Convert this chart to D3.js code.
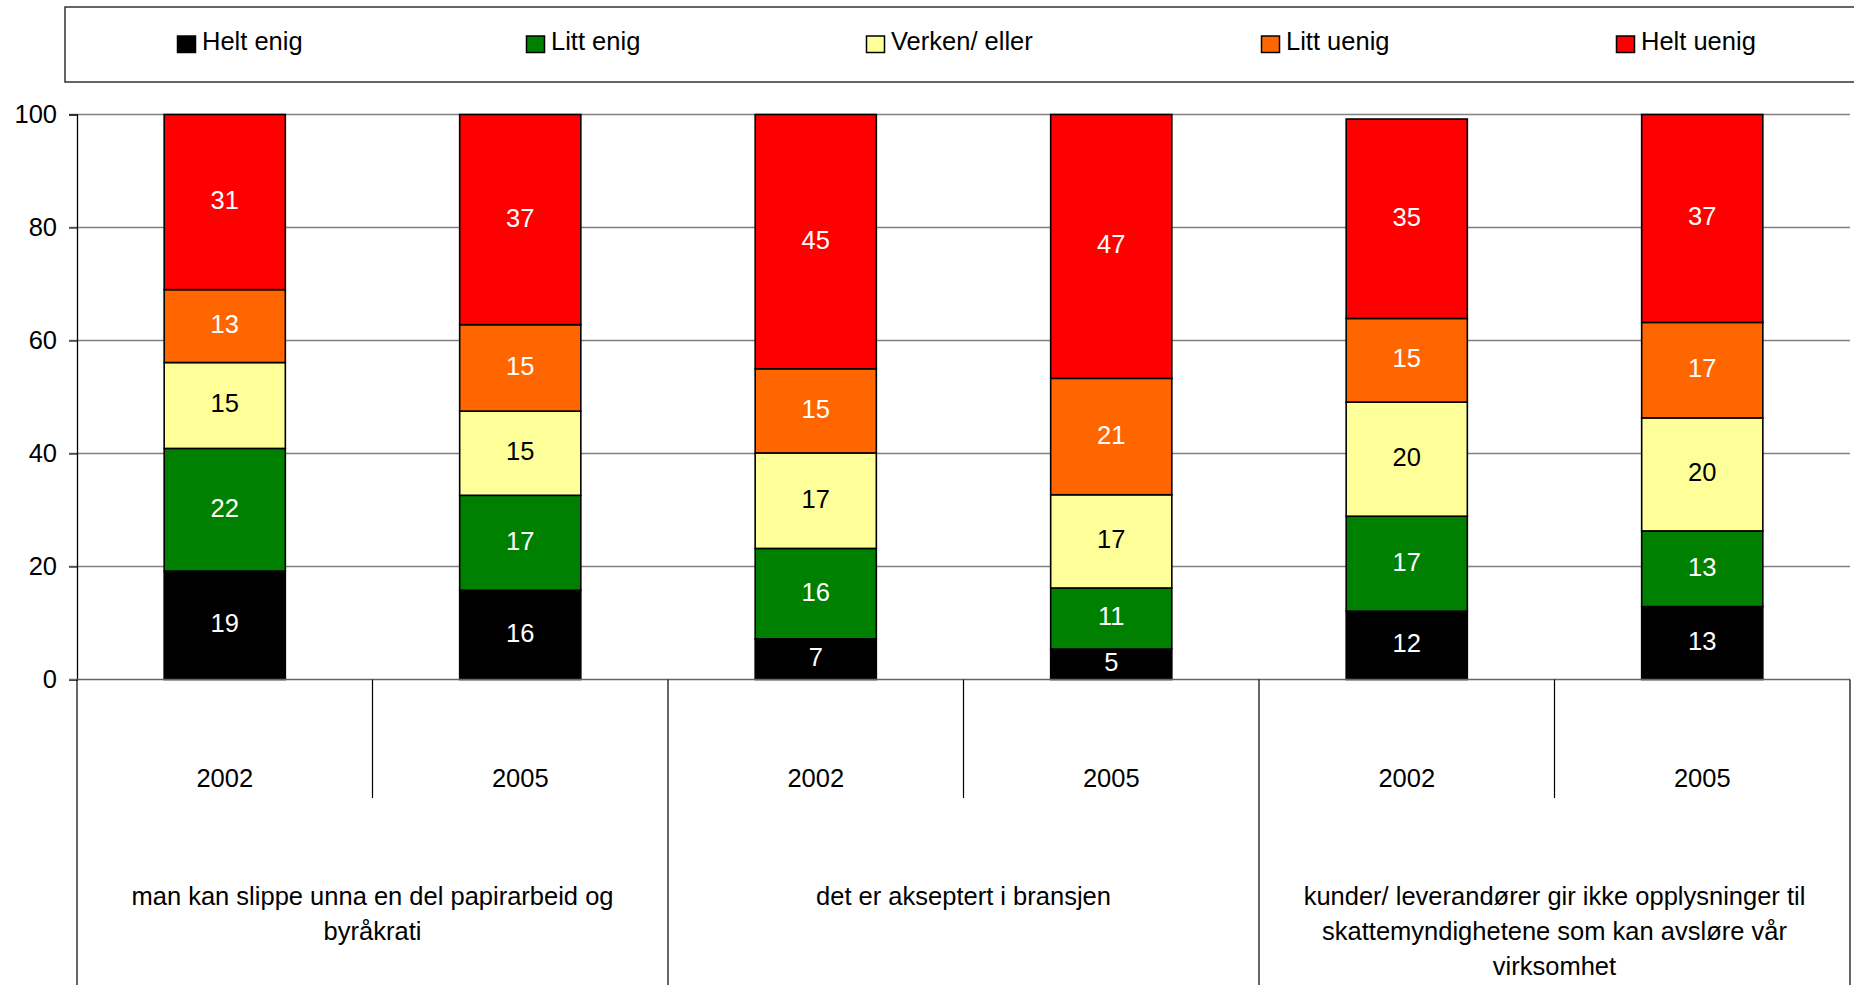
<!DOCTYPE html>
<html>
<head>
<meta charset="utf-8">
<script src="https://cdn.jsdelivr.net/npm/d3@7"></script>
<style>
  html, body { margin: 0; padding: 0; background: #fff; }
  svg { display: block; font-family: "Liberation Sans", Arial, sans-serif; }
</style>
</head>
<body>
<svg id="chart" width="1854" height="985"></svg>
<script>
// ---------- data ----------
const years = ["2002", "2005"];
const groupLines = [
  ["man kan slippe unna en del papirarbeid og", "byråkrati"],
  ["det er akseptert i bransjen"],
  ["kunder/ leverandører gir ikke opplysninger til", "skattemyndighetene som kan avsløre vår", "virksomhet"]
];
const seriesNames = ["Helt enig", "Litt enig", "Verken/ eller", "Litt uenig", "Helt uenig"];
const heltEnig  = [19.2, 15.8, 7.2, 5.4, 12.1, 12.9];
const littEnig  = [21.7, 16.8, 16.0, 10.8, 16.8, 13.4];
const verken    = [15.2, 14.9, 16.9, 16.5, 20.2, 20.0];
const littUenig = [12.9, 15.3, 14.9, 20.6, 14.8, 16.9];
const heltUenig = [31.0, 37.2, 45.0, 46.7, 35.3, 36.8];
const yTicks = [0, 20, 40, 60, 80, 100];

(function () {
// ---------- styles ----------
const colors = ["#000000", "#008000", "#FFFF99", "#FF6600", "#FF0000"];
const labelColors = ["#fff", "#fff", "#000", "#fff", "#fff"];
const FONT = 25.5;

const svg = d3.select("#chart");
svg.append("rect").attr("width", 1854).attr("height", 985).attr("fill", "#fff");

const plotL = 77, plotR = 1850, plotT = 114.5, plotB = 679.5;
const cats = d3.range(groupLines.length * years.length);
const x = d3.scaleBand().domain(cats).range([plotL, plotR]).padding(0);
const y = d3.scaleLinear().domain([0, 100]).range([plotB, plotT]);
const barW = x.bandwidth() * 0.41;

// gridlines
svg.append("g").selectAll("line").data(yTicks.filter(d => d > 0)).join("line")
  .attr("x1", plotL - 8).attr("x2", plotR)
  .attr("y1", d => y(d)).attr("y2", d => y(d))
  .attr("stroke", "#808080").attr("stroke-width", 1.3);

// y axis
const yAxis = d3.axisLeft(y).tickValues(yTicks).tickSize(8).tickPadding(12);
const gy = svg.append("g").attr("transform", `translate(${plotL},0)`).call(yAxis);
gy.select(".domain").attr("stroke", "#000").attr("stroke-width", 1.3);
gy.selectAll(".tick line").attr("stroke", "#333").attr("stroke-width", 1.3);
gy.selectAll(".tick text").attr("font-size", FONT).attr("fill", "#000")
  .attr("font-family", '"Liberation Sans", Arial, sans-serif');

// stacked bars
const rows = cats.map(i => {
  const o = { i };
  [heltEnig, littEnig, verken, littUenig, heltUenig].forEach((arr, k) => o[seriesNames[k]] = arr[i]);
  return o;
});
const stack = d3.stack().keys(seriesNames)(rows);

const gBars = svg.append("g");
stack.forEach((layer, k) => {
  const g = gBars.append("g");
  g.selectAll("rect").data(layer).join("rect")
    .attr("x", d => x(d.data.i) + (x.bandwidth() - barW) / 2)
    .attr("width", barW)
    .attr("y", d => y(d[1]))
    .attr("height", d => y(d[0]) - y(d[1]))
    .attr("fill", colors[k])
    .attr("stroke", "#000").attr("stroke-width", 1.6);
});
stack.forEach((layer, k) => {
  svg.append("g").selectAll("text").data(layer).join("text")
    .attr("x", d => x(d.data.i) + x.bandwidth() / 2)
    .attr("y", d => (y(d[0]) + y(d[1])) / 2 + 7)
    .attr("text-anchor", "middle")
    .attr("font-size", FONT)
    .attr("fill", labelColors[k])
    .text(d => Math.round(d[1] - d[0]));
});

// x axis (zero line)
svg.append("line").attr("x1", plotL - 8).attr("x2", plotR).attr("y1", plotB).attr("y2", plotB)
  .attr("stroke", "#666").attr("stroke-width", 1.5);

// category box
const gCat = svg.append("g");
const groupEdges = d3.range(groupLines.length + 1).map(g => g === groupLines.length ? plotR : x(g * years.length));
gCat.selectAll("line.g").data(groupEdges).join("line")
  .attr("x1", d => d).attr("x2", d => d).attr("y1", plotB).attr("y2", 985)
  .attr("stroke", "#000").attr("stroke-width", 1.2);
const yearEdges = d3.range(groupLines.length).map(g => x(g * years.length + 1));
gCat.selectAll("line.y").data(yearEdges).join("line")
  .attr("x1", d => d).attr("x2", d => d).attr("y1", plotB).attr("y2", 798)
  .attr("stroke", "#000").attr("stroke-width", 1.2);

// year labels
gCat.selectAll("text.year").data(cats).join("text")
  .attr("x", i => x(i) + x.bandwidth() / 2)
  .attr("y", 787)
  .attr("text-anchor", "middle").attr("font-size", FONT).attr("fill", "#000")
  .text(i => years[i % years.length]);

// group labels
groupLines.forEach((lines, g) => {
  const cx = (x(g * years.length) + x(g * years.length + 1) + x.bandwidth()) / 2;
  const t = gCat.append("text").attr("text-anchor", "middle").attr("font-size", FONT).attr("fill", "#000");
  lines.forEach((ln, j) => {
    t.append("tspan").attr("x", cx).attr("y", 905 + j * 35).text(ln);
  });
});

// legend
svg.append("rect").attr("x", 65).attr("y", 7).attr("width", 1800).attr("height", 75)
  .attr("fill", "#fff").attr("stroke", "#333").attr("stroke-width", 1.5);
const legendX = [177, 526, 866, 1261, 1616];
const lg = svg.append("g").selectAll("g").data(seriesNames).join("g")
  .attr("transform", (d, k) => `translate(${legendX[k]},0)`);
lg.append("rect").attr("x", 0.5).attr("y", 36).attr("width", 18).attr("height", 16.5)
  .attr("fill", (d, k) => colors[k]).attr("stroke", "#000").attr("stroke-width", 1.5);
lg.append("text").attr("x", 25).attr("y", 50).attr("font-size", FONT).attr("fill", "#000").text(d => d);
})();
</script>
</body>
</html>
